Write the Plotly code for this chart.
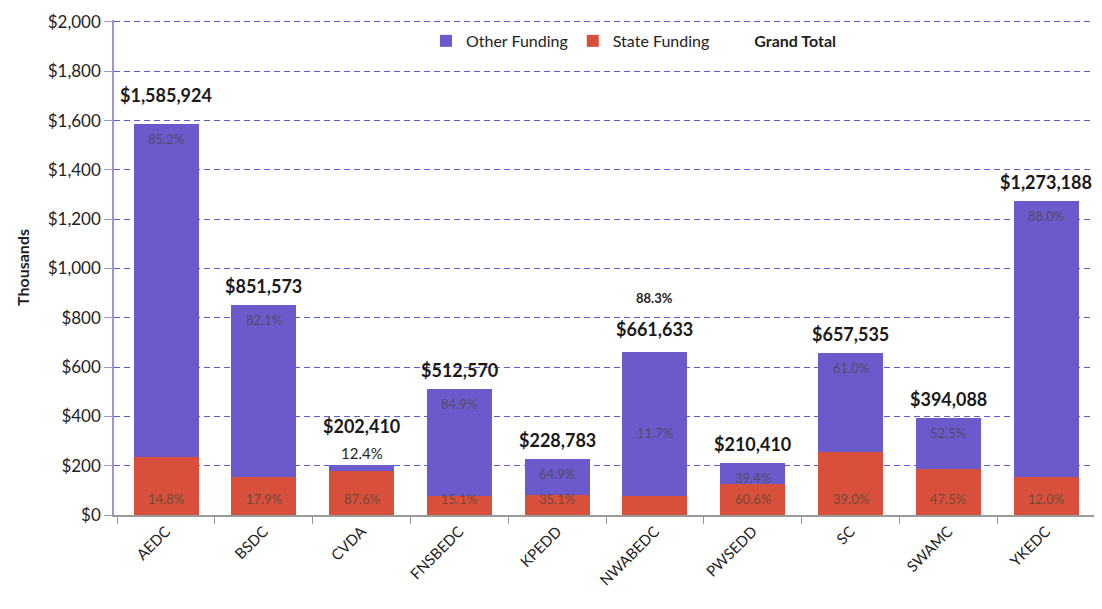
import plotly.graph_objects as go

categories = ["AEDC", "BSDC", "CVDA", "FNSBEDC", "KPEDD", "NWABEDC", "PWSEDD", "SC", "SWAMC", "YKEDC"]
grand_total = [1585.924, 851.573, 202.410, 512.570, 228.783, 661.633, 210.410, 657.535, 394.088, 1273.188]
state_pct = [14.8, 17.9, 87.6, 15.1, 35.1, 11.7, 60.6, 39.0, 47.5, 12.0]
other_pct = [85.2, 82.1, 12.4, 84.9, 64.9, 88.3, 39.4, 61.0, 52.5, 88.0]
y_ticks = [0, 200, 400, 600, 800, 1000, 1200, 1400, 1600, 1800, 2000]

state_vals = [t * p / 100 for t, p in zip(grand_total, state_pct)]
other_vals = [t - s for t, s in zip(grand_total, state_vals)]

PURPLE = "#6b5acb"
RED = "#d8503b"
FONT = "Lato"

fig = go.Figure()
fig.add_trace(go.Bar(x=categories, y=state_vals, name="State Funding", marker_color=RED,
                     marker_line_width=0, legendrank=2))
fig.add_trace(go.Bar(x=categories, y=other_vals, name="Other Funding", marker_color=PURPLE,
                     marker_line_width=0, legendrank=1))
fig.add_trace(go.Scatter(x=[categories[0]], y=[None], mode="markers", name="<b>Grand Total</b>",
                         marker=dict(color="rgba(0,0,0,0)", size=1), legendrank=3))

ann = []
in_col = "rgba(70,70,60,0.72)"
TOT = 18
PCT = 13
for c, t, sp, op in zip(categories, grand_total, state_pct, other_pct):
    if c == "CVDA":
        ann.append(dict(x=c, y=t, text=f"{op:.1f}%", showarrow=False, yanchor="middle", yshift=12,
                        font=dict(size=15, color="#222", family=FONT)))
        ann.append(dict(x=c, y=t, text=f"<b>${t*1000:,.0f}</b>", showarrow=False, yanchor="middle", yshift=39,
                        font=dict(size=TOT, color="#1a1a1a", family=FONT)))
        ann.append(dict(x=c, y=0, text=f"{sp:.1f}%", showarrow=False, yanchor="middle", yshift=16,
                        font=dict(size=PCT, color=in_col, family=FONT)))
        continue
    if c == "NWABEDC":
        ann.append(dict(x=c, y=t, text=f"<b>{op:.1f}%</b>", showarrow=False, yanchor="middle", yshift=54,
                        font=dict(size=13, color="#222", family=FONT)))
        ann.append(dict(x=c, y=t, text=f"<b>${t*1000:,.0f}</b>", showarrow=False, yanchor="middle", yshift=23,
                        font=dict(size=TOT, color="#1a1a1a", family=FONT)))
        ann.append(dict(x=c, y=t / 2, text=f"{sp:.1f}%", showarrow=False, yanchor="middle",
                        font=dict(size=PCT, color=in_col, family=FONT)))
        continue
    shift = 29 if c == "AEDC" else 19
    ann.append(dict(x=c, y=t, text=f"<b>${t*1000:,.0f}</b>", showarrow=False, yanchor="middle", yshift=shift,
                    font=dict(size=TOT, color="#1a1a1a", family=FONT)))
    ann.append(dict(x=c, y=t, text=f"{op:.1f}%", showarrow=False, yanchor="middle", yshift=-15,
                    font=dict(size=PCT, color=in_col, family=FONT)))
    ann.append(dict(x=c, y=0, text=f"{sp:.1f}%", showarrow=False, yanchor="middle", yshift=16,
                    font=dict(size=PCT, color=in_col, family=FONT)))

fig.update_layout(
    width=1102, height=609,
    margin=dict(l=106, r=15, t=12, b=102, autoexpand=False),
    paper_bgcolor="white", plot_bgcolor="white",
    barmode="stack", bargap=0.335,
    font=dict(family=FONT, size=14, color="#222"),
    showlegend=True,
    legend=dict(orientation="h", x=0.318, y=0.992, xanchor="left", yanchor="top",
                traceorder="normal",
                font=dict(size=16, color="#222", family=FONT), bgcolor="rgba(255,255,255,0)",
                itemwidth=30),
    annotations=ann,
)
fig.update_yaxes(range=[0, 2008], tickvals=y_ticks, automargin=False,
                 ticktext=[f"${v:,}" for v in y_ticks],
                 tickfont=dict(size=17, color="#222", family=FONT),
                 ticklabeloverflow="allow",
                 showgrid=True, gridcolor="#5f5bd3", griddash="6px,4px", gridwidth=1.4,
                 showline=True, linecolor="#9a98cc", linewidth=1.5,
                 ticks="outside", ticklen=8, tickcolor="#9a98cc",
                 zeroline=False,
                 title=dict(text="<b>Thousands</b>", font=dict(size=16, color="#222", family=FONT), standoff=14))
fig.update_xaxes(tickangle=-45, tickfont=dict(size=15, color="#222", family=FONT), automargin=False,
                 showline=True, linecolor="#999", linewidth=1.5,
                 ticks="outside", tickson="boundaries", ticklen=7, tickcolor="#999",
                 showgrid=False)

fig.write_html("out.html")
